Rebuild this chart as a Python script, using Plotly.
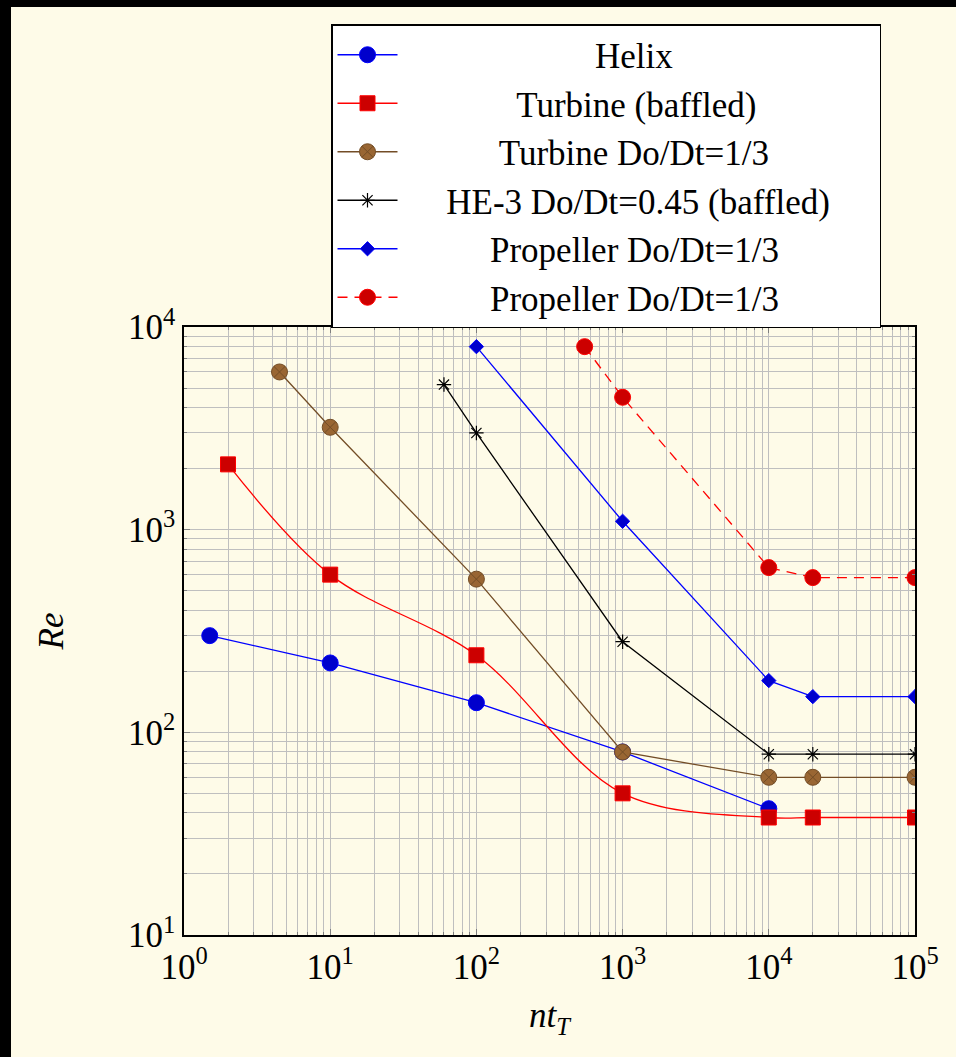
import plotly.graph_objects as go

# ---- data ----
helix_x = [1.5, 10, 100, 1000, 10000]
helix_y = [300, 220, 140, 80, 42]

turb_x = [2, 10, 100, 1000, 10000, 20000, 100000]
turb_y = [2100, 600, 240, 50, 38, 38, 38]

turb13_x = [4.5, 10, 100, 1000, 10000, 20000, 100000]
turb13_y = [6000, 3200, 570, 80, 60, 60, 60]

he3_x = [60, 100, 1000, 10000, 20000, 100000]
he3_y = [5200, 3000, 280, 78, 78, 78]

prop_x = [100, 1000, 10000, 20000, 100000]
prop_y = [8000, 1100, 180, 150, 150]

prop2_x = [550, 1000, 10000, 20000, 100000]
prop2_y = [8000, 4500, 650, 580, 580]

names = ["Helix", "Turbine (baffled)", "Turbine Do/Dt=1/3",
         "HE-3 Do/Dt=0.45 (baffled)", "Propeller Do/Dt=1/3", "Propeller Do/Dt=1/3"]

x_tickvals = [1, 10, 100, 1000, 10000, 100000]
x_ticktext = ["10<sup>0</sup>", "10<sup>1</sup>", "10<sup>2</sup>",
              "10<sup>3</sup>", "10<sup>4</sup>", "10<sup>5</sup>"]
y_tickvals = [10, 100, 1000, 10000]
y_ticktext = ["10<sup>1</sup>", "10<sup>2</sup>", "10<sup>3</sup>", "10<sup>4</sup>"]

FONT = "Liberation Serif, DejaVu Serif, serif"
BG = "#FEFBE8"
GRID = "#BFBFBF"
NB = "\u00a0"

# centre the legend labels in their column (pgfplots draws them centred)
pads = [22, 13, 11, 5, 10, 10]
labels = [NB * p + n + NB * p for p, n in zip(pads, names)]

fig = go.Figure()

fig.add_trace(go.Scatter(
    x=helix_x, y=helix_y, name=labels[0], mode="lines+markers",
    line=dict(color="#0000FF", width=1.3),
    marker=dict(symbol="circle", size=16, color="#0000CC", line=dict(color="#0000FF", width=1))))

fig.add_trace(go.Scatter(
    x=turb_x, y=turb_y, name=labels[1], mode="lines+markers",
    line=dict(color="#FF0000", width=1.3, shape="spline", smoothing=1.0),
    marker=dict(symbol="square", size=15, color="#CC0000", line=dict(color="#FF0000", width=1))))

fig.add_trace(go.Scatter(
    x=turb13_x, y=turb13_y, name=labels[2], mode="lines+markers",
    line=dict(color="#734D26", width=1.3),
    marker=dict(symbol="circle-x", size=16, color="#996633", line=dict(color="#734D26", width=1))))

fig.add_trace(go.Scatter(
    x=he3_x, y=he3_y, name=labels[3], mode="lines+markers",
    line=dict(color="#000000", width=1.3),
    marker=dict(symbol="asterisk-open", size=12, color="#000000", line=dict(color="#000000", width=1.2))))

fig.add_trace(go.Scatter(
    x=prop_x, y=prop_y, name=labels[4], mode="lines+markers",
    line=dict(color="#0000FF", width=1.3),
    marker=dict(symbol="diamond", size=11, color="#0000CC", line=dict(color="#0000FF", width=1))))

fig.add_trace(go.Scatter(
    x=prop2_x, y=prop2_y, name=labels[5], mode="lines+markers",
    line=dict(color="#FF0000", width=1.3, dash="10px,7px"),
    marker=dict(symbol="circle", size=16, color="#CC0000", line=dict(color="#FF0000", width=1))))

axis_common = dict(
    type="log", tickmode="array",
    showgrid=True, gridcolor=GRID, gridwidth=1,
    minor=dict(dtick="D1", showgrid=True, gridcolor=GRID, gridwidth=1,
               ticks="inside", ticklen=3.5, tickcolor="#7f7f7f"),
    ticks="inside", ticklen=6, tickcolor="#7f7f7f",
    showline=True, linecolor="#000000", linewidth=1.5, mirror="allticks",
    zeroline=False, automargin=False,
    tickfont=dict(family=FONT, size=35, color="#000000"),
)

fig.update_xaxes(axis_common, range=[0, 5], tickvals=x_tickvals, ticktext=x_ticktext,
                 title=dict(text="<i>nt</i><sub><i>T</i></sub>",
                            font=dict(family=FONT, size=35, color="#000000"), standoff=17))
fig.update_yaxes(axis_common, range=[1, 4], tickvals=y_tickvals, ticktext=y_ticktext,
                 title=dict(text="<i>Re</i>",
                            font=dict(family=FONT, size=35, color="#000000"), standoff=54))

# page layout in pixels: the screenshot has a black strip on top (7px) and left (11px)
OX, OY = 11, 7
W, H = 956, 1057
PL, PR, PT, PB = 184, 915, 327, 935          # plot area on the page
L, T = PL - OX, PT - OY
R, B = W - (PR - OX), H - (PB - OY)
pw, ph = PR - PL, PB - PT
def px(xp):
    return (xp - PL) / pw
def py(yp):
    return (PB - yp) / ph

fig.update_layout(
    width=W, height=H,
    margin=dict(l=L, r=R, t=T, b=B, pad=0),
    paper_bgcolor=BG, plot_bgcolor=BG,
    font=dict(family=FONT, color="#000000"),
    showlegend=True,
    legend=dict(
        x=px(331), y=py(24), xanchor="left", yanchor="top",
        bgcolor="#FFFFFF", bordercolor="#000000", borderwidth=1.5,
        font=dict(family=FONT, size=35, color="#000000"),
        itemwidth=60, tracegroupgap=0, itemsizing="trace",
    ),
)

fig.write_html(
    "out.html",
    config={"displayModeBar": False},
    post_script=("document.documentElement.style.background='#000';"
                 "document.body.style.background='#000';"
                 "document.body.style.margin='%dpx 0 0 %dpx';"
                 "document.body.style.overflow='hidden';" % (OY, OX)),
)
